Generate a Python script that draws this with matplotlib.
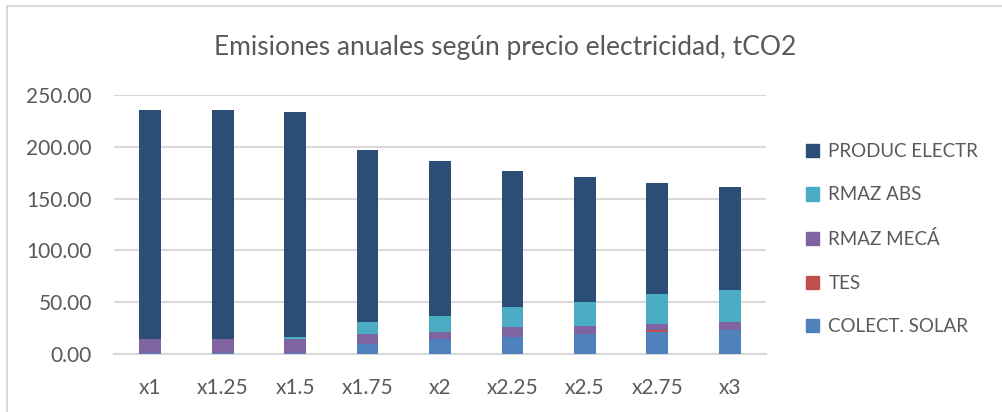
import matplotlib.pyplot as plt
import matplotlib.patches as mpatches
import numpy as np

plt.rcParams['font.family'] = ['Lato', 'DejaVu Sans']

categorias = ['x1', 'x1.25', 'x1.5', 'x1.75', 'x2', 'x2.25', 'x2.5', 'x2.75', 'x3']

# Emisiones por componente (tCO2)
colect_solar = [0.5, 0.5, 0.5, 10.0, 14.0, 16.0, 19.6, 21.6, 23.5]
tes = [0.0, 0.0, 0.0, 0.0, 0.0, 0.0, 0.0, 1.9, 0.0]
rmaz_meca = [13.5, 13.5, 13.5, 9.7, 7.7, 9.6, 7.8, 5.8, 7.7]
rmaz_abs = [0.0, 0.0, 2.0, 11.6, 15.4, 19.3, 23.2, 29.0, 31.0]
produc_electr = [222.0, 222.0, 218.0, 166.0, 149.0, 131.4, 119.8, 106.3, 98.6]

series = [
    ('COLECT. SOLAR', colect_solar, '#4F81BD'),
    ('TES', tes, '#C0504D'),
    ('RMAZ MECÁ', rmaz_meca, '#8064A2'),
    ('RMAZ ABS', rmaz_abs, '#4BACC6'),
    ('PRODUC ELECTR', produc_electr, '#2C4D75'),
]

fig = plt.figure(figsize=(10.03, 4.12), dpi=100)
ax = fig.add_axes([114 / 1003, 58 / 412, 652 / 1003, 259 / 412])

x = np.arange(len(categorias))
base = np.zeros(len(categorias))
handles = []
for nombre, valores, color in series:
    ax.bar(x, valores, width=0.30, bottom=base, color=color, zorder=3)
    base = base + np.array(valores)
    handles.append(mpatches.Patch(color=color, label=nombre))

ax.set_xlim(-0.5, len(categorias) - 0.5)
ax.set_ylim(0, 250)
ax.set_yticks(np.arange(0, 251, 50))
ax.set_yticklabels([f'{v:.2f}' for v in np.arange(0, 251, 50)])
ax.set_xticks(x)
ax.set_xticklabels(categorias)
ax.yaxis.grid(True, color='#D9D9D9', linewidth=1.5, zorder=0)
for s in ['top', 'right', 'left']:
    ax.spines[s].set_visible(False)
ax.spines['bottom'].set_color('#D9D9D9')
ax.spines['bottom'].set_linewidth(1.5)
ax.tick_params(axis='both', length=0, labelsize=15, colors='#595959')
ax.tick_params(axis='y', pad=16)
ax.tick_params(axis='x', pad=17)

fig.text(0.504, 0.885, 'Emisiones anuales según precio electricidad, tCO2',
         ha='center', va='center', fontsize=19, color='#595959')

# Legende: oberste Serie zuerst
leg = fig.legend(handles=handles[::-1], loc='upper left',
                 bbox_to_anchor=(789 / 1003, 1 - 126 / 412), frameon=False,
                 fontsize=13.5, labelspacing=1.42, handlelength=0.7,
                 handleheight=0.7, handletextpad=0.5, labelcolor='#595959')

# Rahmen des Diagramms
fig.patches.append(mpatches.Rectangle((7 / 1003, -0.05), 1.2, 1 - 6 / 412 + 0.05,
                                      transform=fig.transFigure, fill=False,
                                      edgecolor='#D9D9D9', linewidth=1.5))

fig.savefig('out.png', dpi=100)
